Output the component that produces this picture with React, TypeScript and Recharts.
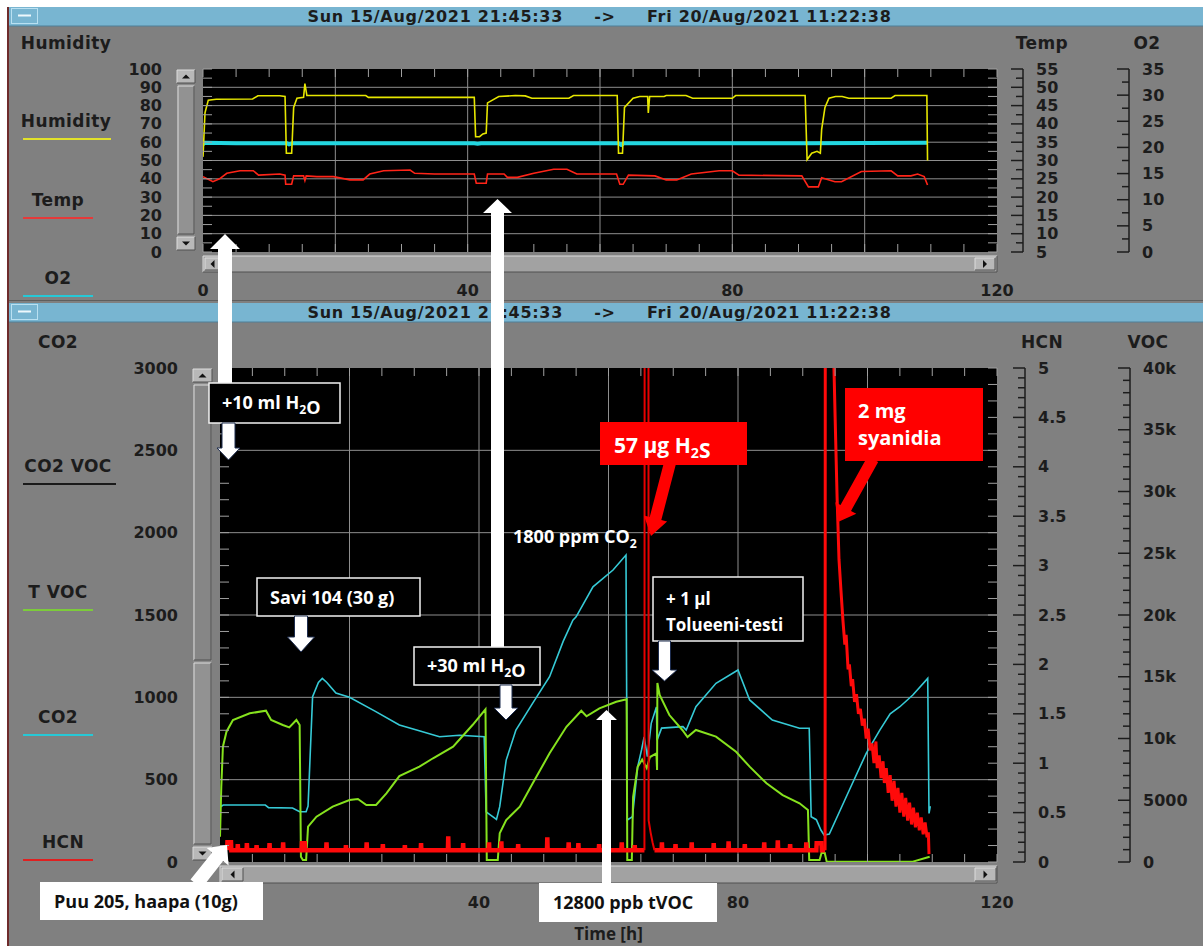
import React from 'react';
import { LineChart, Line, XAxis, YAxis, CartesianGrid } from 'recharts';

type Pt = [number, number];

// ---- top panel: time [h] vs value ----
const humidity: Pt[] = [
  [0, 52], [0.3, 76], [0.8, 83], [2, 83.5], [7.5, 83.6], [8.3, 85.4], [11.6, 85.4], [12.4, 85],
  [12.6, 54], [13.4, 54], [13.7, 79], [14.2, 84], [15.2, 84.5], [15.4, 92], [15.7, 85.5], [24.6, 85.5],
  [25, 84.5], [41, 84.5], [41.2, 63], [41.8, 63], [42.3, 64.5], [42.8, 65], [43, 81.5], [44.7, 85],
  [47.2, 85.5], [48.7, 85.3], [49.7, 84], [55.3, 84], [56, 85.5], [62.6, 85.5], [62.8, 54], [63.4, 54],
  [63.7, 79], [65, 84], [66, 85], [67.2, 85], [67.3, 76], [67.5, 85], [69.7, 85], [70, 85.5], [73, 85.5],
  [74, 84], [80, 84], [80.5, 85.5], [91, 85.5], [91.3, 50.5], [92, 54], [92.8, 55], [93.3, 54],
  [93.5, 67], [94, 79], [94.6, 84], [95.6, 85], [96.6, 85], [97.6, 84], [104, 84], [104.6, 85.5],
  [109.4, 85.5], [109.5, 50],
];

const temperature: Pt[] = [
  [0, 25.6], [1.5, 24.2], [2.5, 25], [3.6, 26.5], [5.6, 27.2], [7.6, 27.2], [8.4, 26], [11.6, 26.3],
  [12.4, 26], [12.5, 23.5], [13.4, 23.5], [13.7, 25.8], [15.2, 25.8], [15.4, 24.5], [15.6, 25.8],
  [17.2, 25.6], [19.7, 25.6], [22.2, 24.7], [24.2, 24.7], [25.2, 26.3], [27.3, 27.2], [31.3, 27.4],
  [32, 26.5], [35, 26.3], [41, 26.3], [41.3, 23.8], [42.8, 23.8], [43, 26.3], [45.5, 26.3], [46, 25.4],
  [47.5, 25.4], [50, 26.5], [53, 27.6], [55, 27.6], [56.5, 26.3], [62.5, 26.3], [63, 23.5], [63.5, 23.5],
  [64.3, 26], [68.3, 25.8], [70, 24.7], [71.6, 24.7], [73.8, 26.3], [78, 27.2], [80, 27.2], [81, 26],
  [90.5, 25.8], [91.5, 22.8], [93, 22.8], [93.5, 25.3], [95.5, 24.2], [96.5, 24.2], [99.5, 27],
  [104, 27.2], [105, 25.8], [107, 25.8], [108, 26.3], [109, 25.6], [109.5, 23.3],
];

const oxygen: Pt[] = [
  [0, 20.6], [0.3, 20.9], [5, 20.8], [12.7, 20.8], [13, 20.6], [13.5, 20.8], [25, 20.8], [41, 20.8],
  [41.5, 20.7], [42, 20.8], [62.8, 20.8], [63.2, 20.5], [63.6, 20.8], [91, 20.8], [109.5, 20.9],
];

// ---- bottom panel ----
const co2: Pt[] = [
  [0, 376], [0.1, 336], [0.5, 346], [7, 346], [7.5, 330], [11.2, 328], [12.3, 305], [13.3, 305],
  [13.6, 340], [14.3, 1004], [15.2, 1090], [15.8, 1115], [16.5, 1090], [17.9, 1026], [20, 1000],
  [24, 915], [27.7, 832], [30.5, 800], [33.9, 761], [37, 770], [40.8, 761], [41.1, 305], [42.7, 259],
  [43.2, 336], [44.2, 619], [45.7, 801], [48.3, 965], [50.9, 1125], [53, 1340], [54.5, 1469],
  [55, 1489], [57.6, 1671], [60.7, 1773], [62.7, 1864], [62.9, 255], [63.7, 275], [64.5, 577],
  [65.1, 680], [65.5, 759], [66, 640], [66.6, 842], [67.4, 941], [67.5, 740], [68.2, 813], [71.5, 822],
  [72, 801], [73.5, 943], [76.6, 1085], [80, 1166], [81.8, 984], [85.3, 862], [89.5, 812], [91, 812],
  [91.3, 275], [92.1, 257], [92.8, 194], [93.3, 164], [94.1, 170], [97.2, 437], [99.8, 660],
  [101.9, 801], [103.5, 900], [105, 943], [107, 1014], [109.3, 1115], [109.5, 295], [109.7, 340],
];

const tvoc: Pt[] = [
  [0, 2050], [0.2, 6100], [0.45, 9340], [1, 10550], [2, 11500], [4.6, 12040], [7.1, 12250],
  [7.9, 11500], [9.7, 11090], [10.7, 10900], [11.8, 11500], [12.3, 11090], [12.5, 430], [12.8, 160],
  [13.3, 160], [13.6, 2860], [14.9, 3670], [17.4, 4480], [20, 5020], [21.3, 5100], [22.6, 4615],
  [24.1, 4615], [25.7, 5560], [27.7, 6950], [30.8, 7720], [32.9, 8400], [36, 9340], [39, 11090],
  [41, 12360], [41.2, 160], [42.9, 160], [43.2, 2320], [44.2, 3400], [46.3, 4480], [48.3, 6370],
  [50.9, 8800], [53.5, 10950], [55.8, 12250], [56.6, 11800], [58.6, 12440], [61.2, 12980],
  [62.8, 13170], [62.9, 160], [63.6, 160], [63.8, 5260], [64.5, 7700], [65.2, 8300], [65.9, 7600],
  [66.4, 8500], [67.4, 8800], [67.5, 7450], [67.55, 14500], [67.9, 13520], [69.4, 11900],
  [71.4, 10690], [72.2, 10120], [73.5, 10690], [76.6, 10150], [79.7, 8930], [81.8, 7720],
  [84.4, 6370], [86.9, 5420], [89.5, 4750], [90.8, 4210], [91, 160], [92.6, 160], [92.9, 730],
  [93.4, 730], [93.7, 30], [107, 30], [109.6, 430],
];

const hcnBefore: Pt[] = [
  [1.1, 0.12], [1.15, 0.2], [1.7, 0.2], [1.75, 0.12], [2.7, 0.12], [2.75, 0.18], [2.8, 0.12],
  [4.1, 0.12], [4.15, 0.19], [4.2, 0.12], [5.6, 0.12], [5.65, 0.17], [5.7, 0.12], [7.6, 0.12],
  [7.65, 0.19], [7.7, 0.12], [9.7, 0.12], [9.75, 0.2], [9.8, 0.12], [12.6, 0.12], [12.65, 0.19],
  [13.1, 0.19], [13.15, 0.12], [16.4, 0.12], [16.45, 0.2], [16.5, 0.12], [19.4, 0.12], [19.45, 0.17],
  [19.5, 0.12], [22.6, 0.12], [22.65, 0.2], [22.7, 0.12], [25.1, 0.12], [25.15, 0.18], [25.2, 0.12],
  [28.5, 0.12], [28.55, 0.17], [28.6, 0.12], [31, 0.12], [31.05, 0.19], [31.1, 0.12], [35.2, 0.12],
  [35.25, 0.26], [35.3, 0.12], [37.5, 0.12], [37.55, 0.19], [37.6, 0.12], [41.5, 0.12], [41.55, 0.2],
  [41.6, 0.12], [43.4, 0.12], [43.45, 0.21], [43.5, 0.12], [46, 0.12], [46.05, 0.18], [46.1, 0.12],
  [50.5, 0.12], [50.55, 0.25], [50.6, 0.12], [53.8, 0.12], [53.85, 0.2], [53.9, 0.12], [55.3, 0.12],
  [55.35, 0.19], [55.4, 0.12], [58.5, 0.12], [58.55, 0.18], [58.6, 0.12], [62, 0.12], [62.05, 0.2],
  [62.1, 0.12], [64, 0.12], [64.05, 0.17], [64.1, 0.12], [65.55, 0.12],
];

const hcnH2S: Pt[] = [
  [65.55, 0.12], [65.6, 9], [66.15, 9], [66.2, 0.42], [66.5, 0.3], [66.8, 0.2], [67.1, 0.12],
];

const hcnBetween: Pt[] = [
  [67.1, 0.12], [68.2, 0.12], [68.25, 0.2], [68.3, 0.12], [70.3, 0.12], [70.35, 0.18], [70.4, 0.12],
  [72.8, 0.12], [72.85, 0.2], [72.9, 0.12], [76.2, 0.12], [76.25, 0.19], [76.3, 0.12], [78.5, 0.12],
  [78.55, 0.21], [78.6, 0.12], [81, 0.12], [81.05, 0.18], [81.1, 0.12], [84, 0.12], [84.05, 0.2],
  [84.1, 0.12], [86.1, 0.12], [86.15, 0.22], [86.2, 0.12], [88, 0.12], [88.05, 0.18], [88.1, 0.12],
  [90.5, 0.12], [90.55, 0.2], [90.6, 0.12], [92.1, 0.12], [92.15, 0.19], [92.9, 0.19], [92.95, 0.12],
  [93.45, 0.12],
];

const hcnCyanide: Pt[] = [
  [93.45, 0.12], [93.5, 9], [94.6, 9], [94.75, 5.2], [95, 4.5], [95.3, 3.7], [95.6, 3.06], [95.9, 2.75],
  [96.2, 2.45], [96.5, 2.2], [96.7, 2.3], [97, 1.95], [97.2, 2], [97.5, 1.78], [97.7, 1.85], [98, 1.62],
  [98.3, 1.7], [98.6, 1.5], [98.9, 1.55], [99.2, 1.38], [99.5, 1.45], [99.8, 1.25], [100.1, 1.35],
  [100.4, 1.13], [100.7, 1.2], [101, 1], [101.3, 1.22], [101.5, 0.95], [101.8, 1.08], [102.1, 0.85],
  [102.4, 1.02], [102.6, 0.8], [102.9, 0.95], [103.2, 0.7], [103.5, 0.88], [103.8, 0.62], [104.1, 0.82],
  [104.4, 0.56], [104.7, 0.75], [105, 0.5], [105.3, 0.7], [105.6, 0.46], [105.9, 0.65], [106.2, 0.42],
  [106.5, 0.6], [106.8, 0.38], [107.1, 0.55], [107.4, 0.35], [107.7, 0.5], [108, 0.32], [108.3, 0.45],
  [108.6, 0.28], [108.9, 0.4], [109.2, 0.25], [109.4, 0.3], [109.5, 0.08],
];

// ---- tick labels ----
const topTimeLabels = [0, 40, 80, 120];
const bottomTimeLabels = [40, 80, 120]; // the 0 sits under the "Puu 205" note
const humidityLabels = [0, 10, 20, 30, 40, 50, 60, 70, 80, 90, 100];
const tempLabels = [5, 10, 15, 20, 25, 30, 35, 40, 45, 50, 55];
const o2Labels = [0, 5, 10, 15, 20, 25, 30, 35];
const co2Labels = [0, 500, 1000, 1500, 2000, 2500, 3000];
const hcnLabels = [0, 0.5, 1, 1.5, 2, 2.5, 3, 3.5, 4, 4.5, 5];
const vocLabels = [0, 5000, 10000, 15000, 20000, 25000, 30000, 35000, 40000];
const timeGrid = [20, 40, 60, 80, 100];

const steps = (a: number, b: number, s: number) => {
  const out: number[] = [];
  for (let i = 0; a + i * s <= b + 1e-9; i++) out.push(Math.round((a + i * s) * 1000) / 1000);
  return out;
};
const has = (list: number[], v: number) => list.some((l) => Math.abs(l - v) < 1e-6);
const rows = (pts: Pt[]) => pts.map(([t, v]) => ({ t, v }));

const UI_FONT = "'DejaVu Sans', sans-serif";
const NOTE_FONT = "'Open Sans', sans-serif";
const INK = '#1c1c1c';
const GRID = '#8e8e8e';
const INNER = '#a0a0a0';

const TOP_W = 794, TOP_H = 183;
const BOT_W = 777, BOT_H = 494;

const leftTick = (labels: number[], dx: number, plotW: number) => (p: any) => {
  const { x, y, payload } = p;
  const v = payload.value;
  return (
    <g>
      <line x1={x} x2={x + 9} y1={y} y2={y} stroke={INNER} />
      <line x1={x + plotW - 9} x2={x + plotW} y1={y} y2={y} stroke={INNER} />
      {has(labels, v) && (
        <text x={x - dx} y={y} textAnchor="end" dominantBaseline="central" fontFamily={UI_FONT}
          fontWeight="bold" fontSize={16} fill={INK}>{v}</text>
      )}
    </g>
  );
};

const rightTick = (labels: number[], shift: number, plotH: number, fmt: (v: number) => string) => (p: any) => {
  const { x, y, payload, index } = p;
  const v = payload.value;
  const ax = x + shift;
  const major = has(labels, v);
  return (
    <g>
      {index === 0 && <line x1={ax} x2={ax} y1={y} y2={y - plotH} stroke={INK} strokeWidth={1.5} />}
      <line x1={ax - (major ? 12 : 7)} x2={ax} y1={y} y2={y} stroke={INK} strokeWidth={1.5} />
      {major && (
        <text x={ax + 13} y={y} dominantBaseline="central" fontFamily={UI_FONT} fontWeight="bold"
          fontSize={16} fill={INK}>{fmt(v)}</text>
      )}
    </g>
  );
};

const bottomTimeTick = (labels: number[], labelDy: number) => (p: any) => {
  const { x, y, payload } = p;
  return (
    <g>
      <line x1={x} x2={x} y1={y - 8} y2={y} stroke={INNER} />
      {has(labels, payload.value) && (
        <text x={x} y={y + labelDy} textAnchor="middle" dominantBaseline="central" fontFamily={UI_FONT}
          fontWeight="bold" fontSize={16} fill={INK}>{payload.value}</text>
      )}
    </g>
  );
};

const topTimeTick = (p: any) => <line x1={p.x} x2={p.x} y1={p.y} y2={p.y + 8} stroke={INNER} />;

const plain = (v: number) => String(v);
const kfmt = (v: number) => (v === 0 ? '0' : v === 5000 ? '5000' : `${v / 1000}k`);

const axisBase = { axisLine: false, tickLine: false, tickSize: 0, tickMargin: 0, interval: 0 as const, allowDataOverflow: true };

function TopChart() {
  return (
    <LineChart width={1203} height={300} margin={{ top: 68, right: 0, bottom: 0, left: 0 }}>
      <CartesianGrid xAxisId="b" yAxisId="hum" fill="#000" fillOpacity={1} stroke={GRID}
        horizontalValues={[10, 20, 30, 40, 50, 60, 70, 80, 90]} verticalValues={timeGrid} />
      <XAxis xAxisId="b" type="number" dataKey="t" domain={[0, 120]} ticks={steps(0, 120, 5)} height={48}
        tick={bottomTimeTick(topTimeLabels, 38)} {...axisBase} />
      <XAxis xAxisId="t" orientation="top" type="number" dataKey="t" domain={[0, 120]} ticks={steps(0, 120, 5)}
        height={1} tick={topTimeTick} {...axisBase} />
      <YAxis yAxisId="hum" width={203} domain={[0, 100]} ticks={steps(0, 100, 5)}
        tick={leftTick(humidityLabels, 41, TOP_W)} {...axisBase} />
      <YAxis yAxisId="r1temp" orientation="right" width={132} domain={[5, 55]} ticks={steps(5, 55, 2.5)}
        tick={rightTick(tempLabels, 26, TOP_H, plain)} {...axisBase} />
      <YAxis yAxisId="r2o2" orientation="right" width={74} domain={[0, 35]} ticks={steps(0, 35, 2.5)}
        tick={rightTick(o2Labels, 0, TOP_H, plain)} {...axisBase} />
      <Line data={rows(oxygen)} xAxisId="b" yAxisId="r2o2" dataKey="v" stroke="#22d6e0" strokeWidth={4}
        dot={false} isAnimationActive={false} />
      <Line data={rows(temperature)} xAxisId="b" yAxisId="r1temp" dataKey="v" stroke="#ff2418" strokeWidth={1.6}
        dot={false} isAnimationActive={false} />
      <Line data={rows(humidity)} xAxisId="b" yAxisId="hum" dataKey="v" stroke="#e6e600" strokeWidth={1.6}
        dot={false} isAnimationActive={false} />
    </LineChart>
  );
}

function BottomChart() {
  return (
    <LineChart width={1203} height={646} margin={{ top: 67, right: 0, bottom: 0, left: 0 }}>
      <CartesianGrid xAxisId="b" yAxisId="co2" fill="#000" fillOpacity={1} stroke={GRID}
        horizontalValues={[500, 1000, 1500, 2000, 2500]} verticalValues={timeGrid} />
      <XAxis xAxisId="b" type="number" dataKey="t" domain={[0, 120]} ticks={steps(0, 120, 5)} height={84}
        tick={bottomTimeTick(bottomTimeLabels, 40)} {...axisBase}
        label={{ value: 'Time [h]', position: 'insideBottom', offset: 6, fill: INK, fontSize: 17,
          fontWeight: 700, fontFamily: NOTE_FONT }} />
      <XAxis xAxisId="t" orientation="top" type="number" dataKey="t" domain={[0, 120]} ticks={steps(0, 120, 5)}
        height={1} tick={topTimeTick} {...axisBase} />
      <YAxis yAxisId="co2" width={220} domain={[0, 3000]} ticks={steps(0, 3000, 100)}
        tick={leftTick(co2Labels, 42, BOT_W)} {...axisBase} />
      <YAxis yAxisId="r1hcn" orientation="right" width={133} domain={[0, 5]} ticks={steps(0, 5, 0.1)}
        tick={rightTick(hcnLabels, 28, BOT_H, plain)} {...axisBase} />
      <YAxis yAxisId="r2voc" orientation="right" width={73} domain={[0, 40000]} ticks={steps(0, 40000, 1000)}
        tick={rightTick(vocLabels, 0, BOT_H, kfmt)} {...axisBase} />
      <Line data={rows(co2)} xAxisId="b" yAxisId="co2" dataKey="v" stroke="#36cad6" strokeWidth={1.6}
        dot={false} isAnimationActive={false} />
      <Line data={rows(tvoc)} xAxisId="b" yAxisId="r2voc" dataKey="v" stroke="#86e21e" strokeWidth={2}
        dot={false} isAnimationActive={false} />
      <Line data={rows(hcnBefore)} xAxisId="b" yAxisId="r1hcn" dataKey="v" stroke="#ff0a0a" strokeWidth={4.5}
        dot={false} isAnimationActive={false} />
      <Line data={rows(hcnBetween)} xAxisId="b" yAxisId="r1hcn" dataKey="v" stroke="#ff0a0a" strokeWidth={4.5}
        dot={false} isAnimationActive={false} />
      <Line data={rows(hcnH2S)} xAxisId="b" yAxisId="r1hcn" dataKey="v" stroke="#e80000" strokeWidth={2}
        dot={false} isAnimationActive={false} />
      <Line data={rows(hcnCyanide)} xAxisId="b" yAxisId="r1hcn" dataKey="v" stroke="#ff0a0a" strokeWidth={3}
        dot={false} isAnimationActive={false} />
    </LineChart>
  );
}

// ---- window chrome ----
const tri = (cx: number, cy: number, dir: 'up' | 'down' | 'left' | 'right') => {
  const s = 4;
  const pts =
    dir === 'up' ? [[cx - s, cy + 2], [cx + s, cy + 2], [cx, cy - 2]]
      : dir === 'down' ? [[cx - s, cy - 2], [cx + s, cy - 2], [cx, cy + 2]]
        : dir === 'left' ? [[cx + 2, cy - s], [cx + 2, cy + s], [cx - 2, cy]]
          : [[cx - 2, cy - s], [cx - 2, cy + s], [cx + 2, cy]];
  return <polygon points={pts.map((q) => q.join(',')).join(' ')} fill="#111" />;
};

const Bevel = ({ x, y, w, h, fill = '#b4b4b4' }: { x: number; y: number; w: number; h: number; fill?: string }) => (
  <g>
    <rect x={x} y={y} width={w} height={h} fill={fill} />
    <polyline points={`${x},${y + h} ${x},${y} ${x + w},${y}`} fill="none" stroke="#dcdcdc" />
    <polyline points={`${x},${y + h} ${x + w},${y + h} ${x + w},${y}`} fill="none" stroke="#505050" />
  </g>
);

const TitleBar = ({ y }: { y: number }) => (
  <g>
    <rect x={9} y={y} width={1194} height={19} fill="#78b5d1" />
    <line x1={9} x2={1203} y1={y + 19} y2={y + 19} stroke="#4e7f97" />
    <rect x={11.5} y={y + 1.5} width={26} height={15} fill="none" stroke="#b9e0f1" />
    <line x1={18} x2={31} y1={y + 8.5} y2={y + 8.5} stroke="#eef8fc" strokeWidth={2} />
    <g fontFamily={UI_FONT} fontWeight="bold" fontSize={16} letterSpacing={0.7} fill={INK}>
      <text x={563} y={y + 15} textAnchor="end">Sun 15/Aug/2021 21:45:33</text>
      <text x={605} y={y + 15} textAnchor="middle">-&gt;</text>
      <text x={647} y={y + 15}>Fri 20/Aug/2021 11:22:38</text>
    </g>
  </g>
);

const Legend = ({ label, cx, y, x1, x2, color }: { label: string; cx: number; y: number; x1?: number; x2?: number; color?: string }) => (
  <g>
    <text x={cx} y={y} textAnchor="middle" dominantBaseline="central" fontFamily={UI_FONT} fontWeight="bold"
      fontSize={17} letterSpacing={0.4} fill={INK}>{label}</text>
    {color && <line x1={x1} x2={x2} y1={y + 18} y2={y + 18} stroke={color} strokeWidth={2} />}
  </g>
);

function Chrome() {
  return (
    <svg width={1203} height={946} style={{ position: 'absolute', left: 0, top: 0 }}>
      <rect x={0} y={0} width={1203} height={946} fill="#fff" />
      <rect x={9} y={7} width={1194} height={939} fill="#808080" />
      <rect x={7} y={7} width={2} height={939} fill="#6e2b2b" />
      <TitleBar y={7} />
      <line x1={9} x2={1203} y1={300.5} y2={300.5} stroke="#5e5e5e" />
      <TitleBar y={303} />

      {/* top scrollbars */}
      <Bevel x={177} y={70} w={18} h={13} fill="#b8b8b8" />
      {tri(186, 76.5, 'up')}
      <rect x={177} y={84} width={18} height={152} fill="#8a8a8a" />
      <Bevel x={178} y={86} w={16} h={148} fill="#929292" />
      <Bevel x={177} y={237} w={18} h={13} fill="#b8b8b8" />
      {tri(186, 243.5, 'down')}
      <Bevel x={203} y={256} w={794} h={16} fill="#a2a2a2" />
      <Bevel x={205} y={258} w={15} h={12} fill="#b8b8b8" />
      {tri(212.5, 264, 'left')}
      <Bevel x={975} y={258} w={20} h={12} fill="#b8b8b8" />
      {tri(985, 264, 'right')}

      {/* bottom scrollbars */}
      <Bevel x={193} y={369} w={19} h={13} fill="#b8b8b8" />
      {tri(202.5, 375.5, 'up')}
      <rect x={193} y={383} width={19} height={463} fill="#8a8a8a" />
      <Bevel x={194} y={385} w={17} h={275} fill="#868686" />
      <Bevel x={194} y={663} w={17} h={181} fill="#929292" />
      <Bevel x={193} y={847} w={19} h={13} fill="#b8b8b8" />
      {tri(202.5, 853.5, 'down')}
      <Bevel x={220} y={866} w={777} h={17} fill="#a2a2a2" />
      <Bevel x={222} y={868} w={21} h={13} fill="#b8b8b8" />
      {tri(232.5, 874.5, 'left')}
      <Bevel x={975} y={868} w={21} h={13} fill="#b8b8b8" />
      {tri(985.5, 874.5, 'right')}

      {/* axis titles and legend */}
      <Legend label="Humidity" cx={66} y={43} />
      <Legend label="Humidity" cx={66} y={121} x1={23} x2={111} color="#e1e12a" />
      <Legend label="Temp" cx={58} y={200} x1={23} x2={93} color="#e53a3a" />
      <Legend label="O2" cx={58} y={278} x1={23} x2={93} color="#26c8d6" />
      <Legend label="Temp" cx={1042} y={43} />
      <Legend label="O2" cx={1147} y={43} />

      <Legend label="CO2" cx={58} y={342} />
      <Legend label="CO2 VOC" cx={68} y={466} x1={23} x2={116} color="#1a1a1a" />
      <Legend label="T VOC" cx={58} y={592} x1={23} x2={93} color="#7ccc3a" />
      <Legend label="CO2" cx={58} y={717} x1={23} x2={93} color="#26c8d6" />
      <Legend label="HCN" cx={63} y={842} x1={23} x2={93} color="#e02020" />
      <Legend label="HCN" cx={1042} y={342} />
      <Legend label="VOC" cx={1148} y={342} />
    </svg>
  );
}

// ---- slide annotations ----
const arrow = (x1: number, y1: number, x2: number, y2: number, shaft: number, head: number, len: number) => {
  const L = Math.hypot(x2 - x1, y2 - y1);
  const ux = (x2 - x1) / L, uy = (y2 - y1) / L;
  const nx = -uy, ny = ux;
  const bx = x2 - ux * len, by = y2 - uy * len;
  return [
    [x1 + nx * shaft, y1 + ny * shaft], [bx + nx * shaft, by + ny * shaft], [bx + nx * head, by + ny * head],
    [x2, y2], [bx - nx * head, by - ny * head], [bx - nx * shaft, by - ny * shaft], [x1 - nx * shaft, y1 - ny * shaft],
  ].map((q) => q.map((n) => n.toFixed(1)).join(',')).join(' ');
};

const Sub = ({ children }: { children: string }) => (
  <>
    <tspan dy={5} fontSize="0.68em">{children}</tspan>
    <tspan dy={-5}>{''}</tspan>
  </>
);

function Notes() {
  const box = { fill: '#000', stroke: '#f2f2f2', strokeWidth: 1.5 };
  const note = { fontFamily: NOTE_FONT, fontWeight: 700, fontSize: 18, fill: '#fff' };
  const outline = { fill: '#fff', stroke: '#1d2c4e', strokeWidth: 1 };
  return (
    <svg width={1203} height={946} style={{ position: 'absolute', left: 0, top: 0, pointerEvents: 'none' }}>
      <polygon points={arrow(225, 383, 225, 234, 7, 15, 15)} fill="#fff" />
      <polygon points={arrow(497.5, 647, 497.5, 199, 6.5, 14.5, 14)} fill="#fff" />

      <rect x={209} y={383} width={131} height={40} {...box} />
      <text x={222} y={409} {...note}>+10 ml H<Sub>2</Sub>O</text>
      <polygon points={arrow(228.5, 423, 228.5, 460, 6.5, 11.5, 12)} {...outline} />

      <rect x={257} y={578} width={163} height={38} {...box} />
      <text x={270} y={604} {...note}>Savi 104 (30 g)</text>
      <polygon points={arrow(301, 616, 301, 652, 6.5, 13.5, 15)} {...outline} />

      <rect x={414} y={647} width={126} height={38} {...box} />
      <text x={427} y={672} {...note}>+30 ml H<Sub>2</Sub>O</text>
      <polygon points={arrow(506, 685, 506, 720, 6, 12, 12)} {...outline} />

      <text x={513} y={543} {...note}>1800 ppm CO<Sub>2</Sub></text>

      <rect x={653} y={577} width={150} height={64} {...box} />
      <text x={666} y={605} {...note} fontSize={17}>+ 1 µl</text>
      <text x={666} y={631} {...note} fontSize={17}>Tolueeni-testi</text>
      <polygon points={arrow(664.5, 641, 664.5, 681, 6, 12.5, 11)} {...outline} />

      <polygon points={arrow(606.5, 883, 606.5, 710, 4.5, 10.5, 10)} fill="#fff" />
      <rect x={539} y={883} width={178} height={39} fill="#fff" />
      <text x={553} y={909} {...note} fill="#111">12800 ppb tVOC</text>

      <polygon points={arrow(196, 884, 227, 845, 7, 14, 15)} fill="#fff" />
      <rect x={40} y={882} width={223} height={38} fill="#fff" />
      <text x={54} y={908} {...note} fill="#111">Puu 205, haapa (10g)</text>

      <rect x={600} y={422} width={147} height={43} fill="#ff0000" />
      <polygon points={arrow(670, 463, 651, 536, 6, 12, 18)} fill="#ff0000" />
      <text x={614} y={453} {...note} fontSize={21}>57 µg H<Sub>2</Sub>S</text>

      <rect x={845} y={388} width={138} height={73} fill="#ff0000" />
      <polygon points={arrow(873, 459, 838, 522, 6, 12, 16)} fill="#ff0000" />
      <text x={858} y={418} {...note} fontSize={20}>2 mg</text>
      <text x={858} y={445} {...note} fontSize={20}>syanidia</text>
    </svg>
  );
}

export default function App() {
  return (
    <div style={{ position: 'absolute', left: 0, top: 0, width: 1203, height: 946, overflow: 'hidden' }}>
      <Chrome />
      <div style={{ position: 'absolute', left: 0, top: 0 }}>
        <TopChart />
      </div>
      <div style={{ position: 'absolute', left: 0, top: 300 }}>
        <BottomChart />
      </div>
      <Notes />
    </div>
  );
}
